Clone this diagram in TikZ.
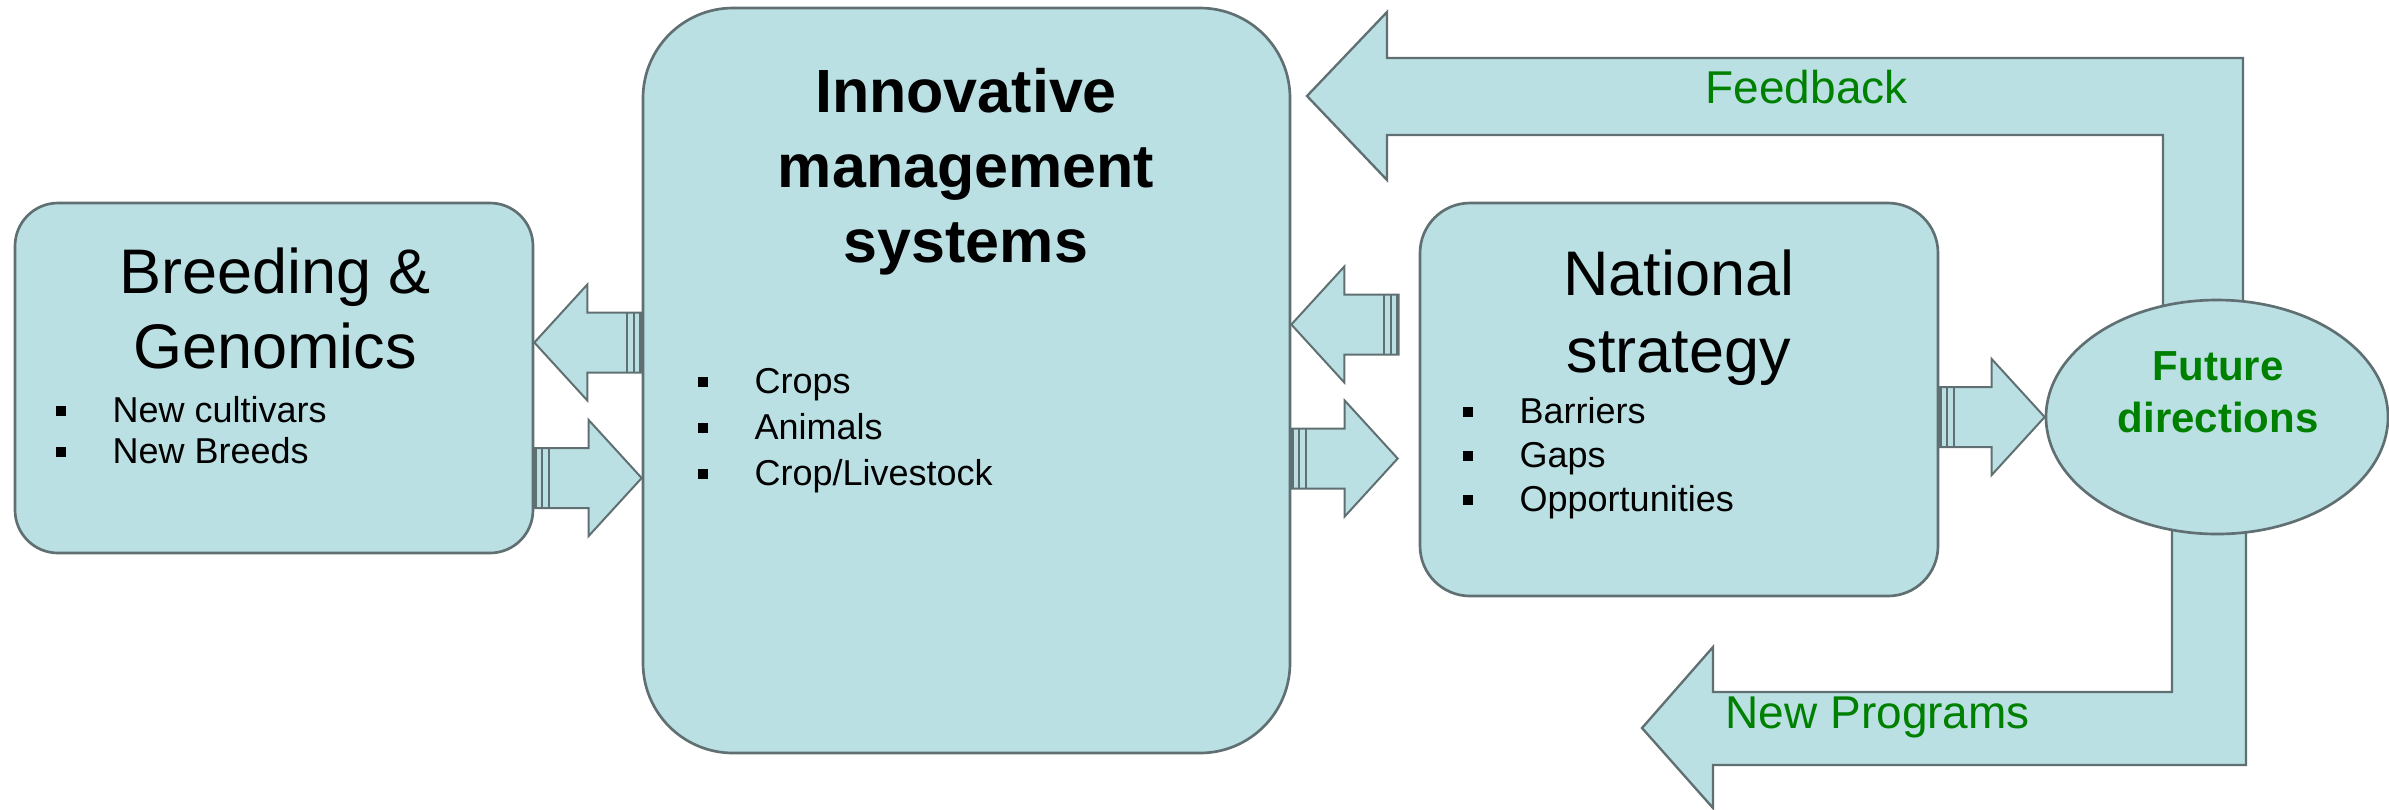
\documentclass[tikz,border=0pt]{standalone}
\usepackage{fontspec}
\setmainfont{Liberation Sans}
\usetikzlibrary{calc,shapes.geometric,backgrounds}

\definecolor{boxfill}{RGB}{186,224,227}
\definecolor{boxline}{RGB}{96,112,114}
\definecolor{leafgreen}{RGB}{0,128,0}

% square bullet followed by the item text
\newcommand{\sqitem}[1]{\makebox[17.1pt][l]{\raisebox{1.8pt}{\rule{3pt}{3pt}}}#1}

% block arrow with a striped tail: #1 tail, #2 tip (kept level with the tail)
\newcommand{\fatarrow}[2]{%
  \draw[arrowbody] let \p1=#1, \p2=#2, \n1={sign(\x2-\x1)} in
    (\x1,\y1+9pt) -- (\x2-\n1*15.9pt,\y1+9pt) -- (\x2-\n1*15.9pt,\y1+17.4pt)
    -- (\x2,\y1) -- (\x2-\n1*15.9pt,\y1-17.4pt) -- (\x2-\n1*15.9pt,\y1-9pt)
    -- (\x1,\y1-9pt) -- cycle;
  \draw[tailstripe] let \p1=#1, \p2=#2, \n1={sign(\x2-\x1)} in
    (\x1+\n1*0.6pt,\y1+9pt) -- (\x1+\n1*0.6pt,\y1-9pt)
    (\x1+\n1*2.4pt,\y1+9pt) -- (\x1+\n1*2.4pt,\y1-9pt)
    (\x1+\n1*4.5pt,\y1+9pt) -- (\x1+\n1*4.5pt,\y1-9pt);
}

\begin{document}
\begin{tikzpicture}[x=0.3pt, y=-0.3pt,
  box/.style={rectangle, draw=boxline, fill=boxfill, line width=0.8pt, inner sep=0pt},
  arrowbody/.style={draw=boxline, fill=boxfill, line width=0.6pt},
  tailstripe/.style={draw=boxline, line width=0.6pt},
  band/.style={draw=boxline, fill=boxfill, line width=0.7pt},
  title/.style={align=center, inner sep=0pt, anchor=base},
  item/.style={inner sep=0pt, anchor=base west, font=\fontsize{10.8}{13}\selectfont},
  remark/.style={inner sep=0pt, anchor=base west, text=leafgreen, font=\fontsize{13.8}{16}\selectfont}]

  \useasboundingbox (0,0) rectangle (2389,809);

  % the four blocks
  \node[box, rounded corners=12.9pt, minimum width=155.4pt, minimum height=105pt] (breed) at (274,378) {};
  \node[box, rounded corners=27pt, minimum width=194.1pt, minimum height=223.5pt] (mgmt) at (966.5,380.5) {};
  \node[box, rounded corners=15pt, minimum width=155.4pt, minimum height=117.9pt] (national) at (1679,399.5) {};
  \node[box, ellipse, minimum width=102.6pt, minimum height=70.2pt] (future) at (2217,417) {};

  % titles sit on the baseline of their last line
  \node[title, font=\fontsize{18.9}{22.5}\selectfont] (breed-title) at (275,368) {Breeding \&\\Genomics};
  \node[title, font=\bfseries\fontsize{18.3}{22.5}\selectfont] (mgmt-title) at (966,262) {Innovative\\management\\systems};
  \node[title, font=\fontsize{18.9}{23.1}\selectfont] (national-title) at (1679,372) {National\\strategy};
  \node[title, text=leafgreen, font=\bfseries\fontsize{12.6}{15.6}\selectfont] (future-title) at (2218,432) {Future\\directions};

  \foreach \t [count=\i] in {New cultivars, New Breeds}
    \node[item] (breed-\i) at (55,{422+41*(\i-1)}) {\sqitem{\t}};
  \foreach \t [count=\i] in {Crops, Animals, Crop/Livestock}
    \node[item] (mgmt-\i) at (697,{393+46*(\i-1)}) {\sqitem{\t}};
  \foreach \t [count=\i] in {Barriers, Gaps, Opportunities}
    \node[item] (national-\i) at (1462,{423+44*(\i-1)}) {\sqitem{\t}};

  % links between the blocks
  \fatarrow{($(mgmt.west)+(0,-38)$)}{(breed.east)}
  \fatarrow{($(breed.east)+(0,100)$)}{(mgmt.west)}
  \fatarrow{($(national.west)+(-20,-75)$)}{(mgmt.east)}
  \fatarrow{($(mgmt.east)+(0,78)$)}{($(national.west)+(-21,0)$)}
  \fatarrow{(national.east |- future.west)}{(future.west)}

  % loops back from the ellipse, kept behind it
  \coordinate (fbtip) at (1307,96);
  \coordinate (nptip) at (1642,728);
  \begin{pgfonlayer}{background}
    \draw[band] ($(future.north)+(-54,20)$) |- ($(fbtip)+(80,39)$) -- ++(0,45) -- (fbtip)
      -- ++(80,-84) -- ++(0,46) -| ($(future.north)+(26,20)$) -- cycle;
    \draw[band] ($(future.south)+(-45,-20)$) |- ($(nptip)+(71,-36)$) -- ++(0,-45) -- (nptip)
      -- ++(71,80) -- ++(0,-43) -| ($(future.south)+(29,-20)$) -- cycle;
  \end{pgfonlayer}
  \node[remark] (fb-label) at (1705,103) {Feedback};
  \node[remark] (np-label) at (1725,728) {New Programs};
\end{tikzpicture}
\end{document}
